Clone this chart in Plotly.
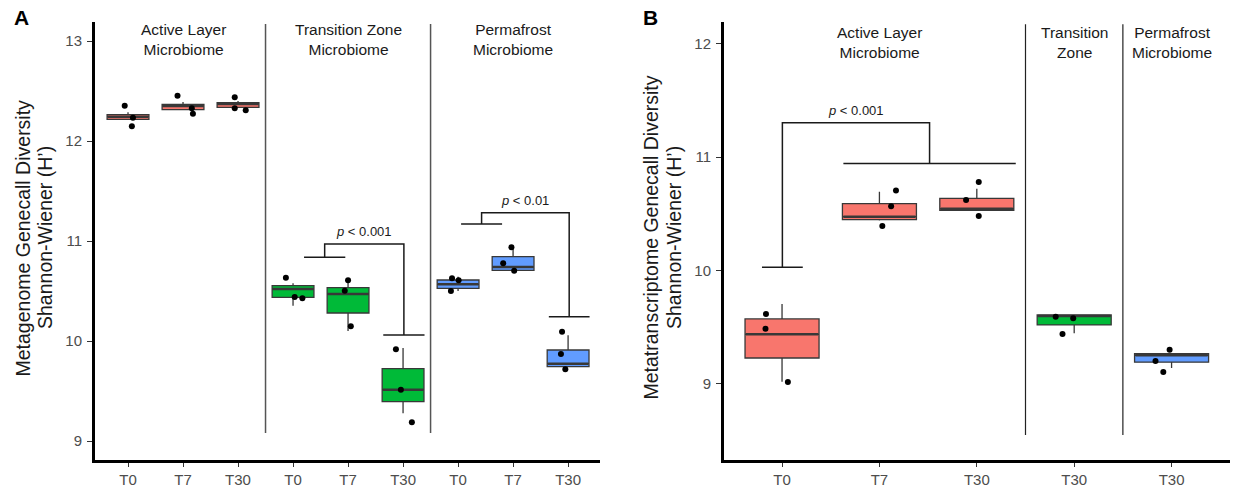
import plotly.graph_objects as go

# ---------------- Panel A: metagenome gene-call diversity ----------------
a_ticks = ["T0", "T7", "T30", "T0", "T7", "T30", "T0", "T7", "T30"]
a_zone = ["active"] * 3 + ["transition"] * 3 + ["permafrost"] * 3
a_q1 = [12.217, 12.313, 12.337, 10.437, 10.280, 9.393, 10.527, 10.707, 9.743]
a_median = [12.243, 12.350, 12.370, 10.520, 10.470, 9.513, 10.567, 10.740, 9.773]
a_q3 = [12.263, 12.367, 12.383, 10.553, 10.533, 9.723, 10.610, 10.843, 9.910]
a_lower = [12.217, 12.313, 12.337, 10.353, 10.100, 9.277, 10.500, 10.707, 9.743]
a_upper = [12.287, 12.390, 12.400, 10.577, 10.593, 9.930, 10.643, 10.943, 10.057]
a_points = [
    [12.353, 12.233, 12.147], [12.453, 12.327, 12.273], [12.437, 12.327, 12.307],
    [10.633, 10.440, 10.427], [10.607, 10.503, 10.147], [9.917, 9.513, 9.187],
    [10.627, 10.607, 10.500], [10.937, 10.777, 10.703], [10.093, 9.870, 9.717],
]
a_jitter = [
    [-0.06, 0.09, 0.07], [-0.10, 0.16, 0.18], [-0.06, -0.06, 0.14],
    [-0.13, 0.03, 0.17], [0.00, -0.06, 0.05], [-0.13, -0.04, 0.16],
    [-0.11, 0.01, -0.13], [-0.03, -0.18, 0.02], [-0.11, -0.13, -0.05],
]
a_headers = ["Active Layer<br>Microbiome", "Transition Zone<br>Microbiome", "Permafrost<br>Microbiome"]
a_header_pos = [1, 4, 7]

# ---------------- Panel B: metatranscriptome gene-call diversity ----------------
b_ticks = ["T0", "T7", "T30", "T30", "T30"]
b_zone = ["active"] * 3 + ["transition", "permafrost"]
b_q1 = [9.229, 10.448, 10.530, 9.520, 9.192]
b_median = [9.438, 10.474, 10.544, 9.599, 9.253]
b_q3 = [9.573, 10.589, 10.636, 9.608, 9.267]
b_lower = [9.020, 10.440, 10.530, 9.447, 9.141]
b_upper = [9.705, 10.694, 10.721, 9.608, 9.267]
b_points = [
    [9.617, 9.487, 9.018], [10.706, 10.566, 10.392], [10.780, 10.621, 10.480],
    [9.593, 9.579, 9.440], [9.302, 9.203, 9.106],
]
b_jitter = [
    [-0.165, -0.17, 0.06], [0.17, 0.12, 0.03], [0.02, -0.11, 0.02],
    [-0.19, -0.01, -0.12], [-0.02, -0.165, -0.085],
]
b_headers = ["Active Layer<br>Microbiome", "Transition<br>Zone", "Permafrost<br>Microbiome"]
b_header_pos = [1, 3, 4]

# significance brackets: (left bar x0, x1, y), (right bar x0, x1, y), top y, label
a_brackets = [
    dict(left=(3.20, 3.95, 10.837), right=(4.64, 5.39, 10.06), top=10.97, label="<i>p</i> < 0.001"),
    dict(left=(6.055, 6.80, 11.17), right=(7.65, 8.39, 10.243), top=11.283, label="<i>p</i> < 0.01"),
]
b_brackets = [
    dict(left=(-0.206, 0.213, 10.028), right=(0.63, 2.40, 10.944), top=11.302, label="<i>p</i> < 0.001"),
]

ZONE_COLORS = {"active": "#F8766D", "transition": "#00BA38", "permafrost": "#619CFF"}
BOX_WIDTH = 0.76
FONT = "Liberation Sans, Arial, sans-serif"

fig = go.Figure()


def add_panel(xa, ya, zone, q1, med, q3, lo, hi, pts, jit):
    xs = list(range(len(zone)))
    for z in ["active", "transition", "permafrost"]:
        idx = [i for i in xs if zone[i] == z]
        if not idx:
            continue
        fig.add_trace(go.Box(
            x=[xs[i] for i in idx],
            q1=[q1[i] for i in idx], median=[med[i] for i in idx], q3=[q3[i] for i in idx],
            lowerfence=[lo[i] for i in idx], upperfence=[hi[i] for i in idx],
            width=BOX_WIDTH, whiskerwidth=0, boxpoints=False,
            fillcolor=ZONE_COLORS[z], line=dict(color="#383838", width=1.3),
            xaxis=xa, yaxis=ya, hoverinfo="skip", showlegend=False,
        ))
    # heavier median bars
    mx, my = [], []
    for i in xs:
        mx += [i - BOX_WIDTH / 2 + 0.01, i + BOX_WIDTH / 2 - 0.01, None]
        my += [med[i], med[i], None]
    fig.add_trace(go.Scatter(x=mx, y=my, mode="lines", line=dict(color="#383838", width=2.6),
                             xaxis=xa, yaxis=ya, hoverinfo="skip", showlegend=False))
    # jittered observations
    px, py = [], []
    for i in xs:
        for v, j in zip(pts[i], jit[i]):
            px.append(i + j)
            py.append(v)
    fig.add_trace(go.Scatter(x=px, y=py, mode="markers", marker=dict(color="black", size=6),
                             xaxis=xa, yaxis=ya, hoverinfo="skip", showlegend=False))


def add_brackets(xa, ya, brackets):
    for b in brackets:
        lx0, lx1, ly = b["left"]
        rx0, rx1, ry = b["right"]
        lc, rc = (lx0 + lx1) / 2, (rx0 + rx1) / 2
        bx = [lx0, lx1, None, lc, lc, rc, rc, None, rx0, rx1]
        by = [ly, ly, None, ly, b["top"], b["top"], ry, None, ry, ry]
        fig.add_trace(go.Scatter(x=bx, y=by, mode="lines", line=dict(color="#1a1a1a", width=1.5),
                                 xaxis=xa, yaxis=ya, hoverinfo="skip", showlegend=False))
        fig.add_annotation(x=(lc + rc) / 2, y=b["top"], xref=xa, yref=ya, text=b["label"],
                           showarrow=False, xanchor="center", yanchor="bottom", yshift=3,
                           font=dict(family=FONT, size=13, color="#1a1a1a"))


add_panel("x", "y", a_zone, a_q1, a_median, a_q3, a_lower, a_upper, a_points, a_jitter)
add_brackets("x", "y", a_brackets)
add_panel("x2", "y2", b_zone, b_q1, b_median, b_q3, b_lower, b_upper, b_points, b_jitter)
add_brackets("x2", "y2", b_brackets)

# section separators
for xv in [2.5, 5.5]:
    fig.add_shape(type="line", xref="x", yref="y", x0=xv, x1=xv, y0=9.08, y1=13.17,
                  line=dict(color="#555555", width=1.5))
for xv in [2.5, 3.5]:
    fig.add_shape(type="line", xref="x2", yref="y2", x0=xv, x1=xv, y0=8.55, y1=12.17,
                  line=dict(color="#222222", width=1.2))

# section headers
for txt, xv in zip(a_headers, a_header_pos):
    fig.add_annotation(x=xv, xref="x", y=1 - 40 / 490, yref="paper", text=txt, showarrow=False,
                       xanchor="center", yanchor="middle",
                       font=dict(family=FONT, size=15.5, color="#1a1a1a"))
for txt, xv in zip(b_headers, b_header_pos):
    fig.add_annotation(x=xv, xref="x2", y=1 - 42.5 / 490, yref="paper", text=txt, showarrow=False,
                       xanchor="center", yanchor="middle",
                       font=dict(family=FONT, size=15.5, color="#1a1a1a"))

# axis titles (two lines each)
title_font = dict(family=FONT, size=19.5, color="#1a1a1a")
for txt, xp in [("Metagenome Genecall Diversity", 22.5), ("Shannon-Wiener (H’)", 45),
                ("Metatranscriptome Genecall Diversity", 650.5), ("Shannon-Wiener (H’)", 674)]:
    fig.add_annotation(x=xp / 1238, y=1 - 238 / 490, xref="paper", yref="paper", text=txt,
                       textangle=-90, showarrow=False, xanchor="center", yanchor="middle",
                       font=title_font)

# panel letters
for txt, xp in [("A", 21), ("B", 650)]:
    fig.add_annotation(x=xp / 1238, y=1 - 17.5 / 490, xref="paper", yref="paper",
                       text="<b>" + txt + "</b>", showarrow=False,
                       xanchor="center", yanchor="middle",
                       font=dict(family=FONT, size=21, color="black"))

tick_font = dict(family=FONT, size=15, color="#4d4d4d")
ydom = [1 - 460 / 490, 1 - 22 / 490]
common_x = dict(showline=True, linewidth=3, linecolor="black", ticks="outside", ticklen=4,
                tickwidth=1, tickcolor="#333333", tickfont=tick_font, showgrid=False,
                zeroline=False, ticklabelstandoff=0)
common_y = dict(showline=True, linewidth=3, linecolor="black", ticks="outside", ticklen=5,
                tickwidth=1, tickcolor="#333333", tickfont=tick_font, showgrid=False,
                zeroline=False, ticklabelstandoff=2)

fig.update_layout(
    width=1238, height=490,
    margin=dict(l=0, r=0, t=0, b=0),
    paper_bgcolor="white", plot_bgcolor="white",
    boxmode="overlay",
    xaxis=dict(domain=[95 / 1238, 600 / 1238], range=[-0.6, 8.58],
               tickvals=list(range(len(a_ticks))), ticktext=a_ticks, anchor="y", **common_x),
    yaxis=dict(domain=ydom, range=[8.81, 13.19], tickvals=[9, 10, 11, 12, 13], anchor="x", **common_y),
    xaxis2=dict(domain=[724 / 1238, 1230 / 1238], range=[-0.596, 4.6],
                tickvals=list(range(len(b_ticks))), ticktext=b_ticks, anchor="y2", **common_x),
    yaxis2=dict(domain=ydom, range=[8.33, 12.19], tickvals=[9, 10, 11, 12], anchor="x2", **common_y),
)

fig.write_html("out.html")
